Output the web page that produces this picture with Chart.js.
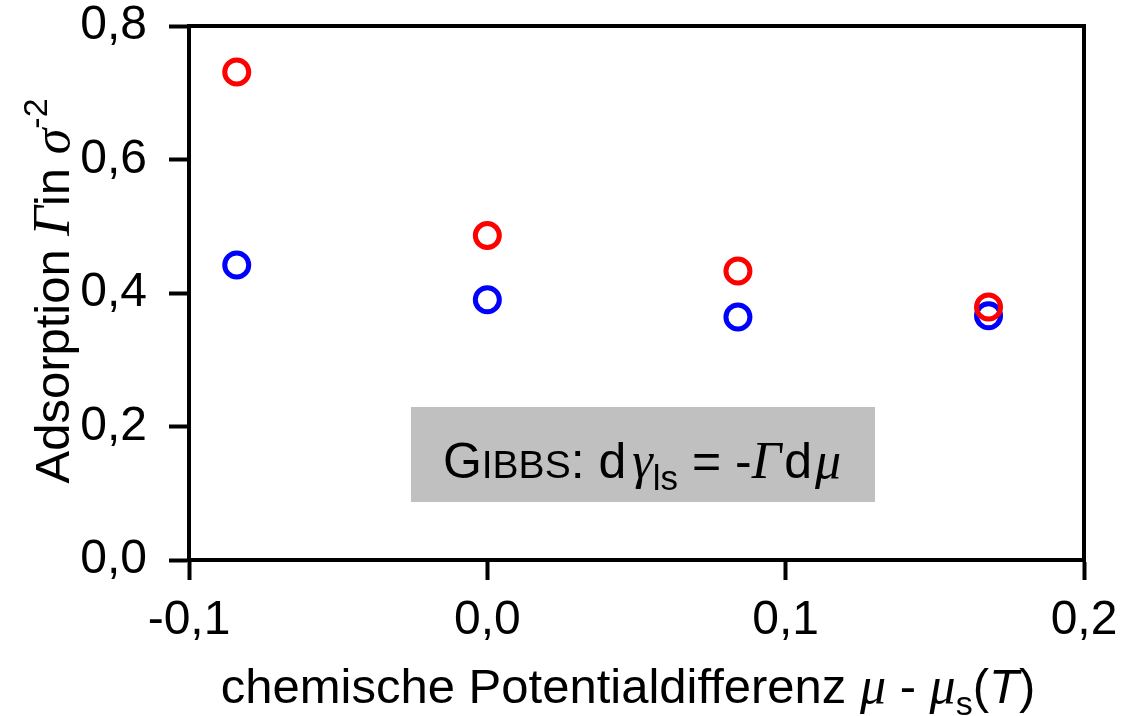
<!DOCTYPE html>
<html>
<head>
<meta charset="utf-8">
<script src="https://cdn.jsdelivr.net/npm/chart.js@4.4.1/dist/chart.umd.min.js"></script>
<style>
  html, body { margin: 0; padding: 0; background: #fff; }
  #wrap { width: 1125px; height: 716px; }
</style>
</head>
<body>
<div id="wrap"><canvas id="adsChart" width="1125" height="716"></canvas></div>
<script>
// chemische Potentialdifferenz (x) und Adsorption Gamma (y)
const potential = [-0.084, 0.0, 0.084, 0.168];
const adsorptionRot = [0.731, 0.486, 0.433, 0.379];
const adsorptionBlau = [0.442, 0.390, 0.364, 0.366];
const xTicks = [-0.1, 0.0, 0.1, 0.2];
const yTicks = [0.0, 0.2, 0.4, 0.6, 0.8];

const SANS = '"Liberation Sans", Arial, sans-serif';
const SERIF = '"Liberation Serif", "Times New Roman", serif';

function punkte(ys) {
    return potential.map((x, i) => ({ x: x, y: ys[i] }));
}

function komma(v) {
    return v.toFixed(1).replace('.', ',');
}

// Text aus mehreren Stücken (Schrift, Versatz) zentriert zeichnen
function textStuecke(ctx, teile, x, y) {
    let breite = 0;
    teile.forEach((t) => {
        ctx.font = t.font;
        t.w = ctx.measureText(t.text).width + (t.gap || 0);
        breite += t.w;
    });
    let cx = x - breite / 2;
    ctx.textAlign = 'left';
    ctx.textBaseline = 'alphabetic';
    teile.forEach((t) => {
        ctx.font = t.font;
        ctx.fillText(t.text, cx, y + (t.dy || 0));
        cx += t.w;
    });
}

const rahmenPlugin = {
    id: 'rahmen',
    beforeDatasetsDraw(chart) {
        const { ctx } = chart;
        ctx.save();
        // Kasten mit Gibbs-Gleichung
        ctx.fillStyle = '#c0c0c0';
        ctx.fillRect(411, 407, 464, 95);
        ctx.fillStyle = '#000';
        textStuecke(ctx, [
            { text: 'G', font: '50px ' + SANS },
            { text: 'IBBS', font: '39px ' + SANS },
            { text: ': d', font: '50px ' + SANS, gap: 6 },
            { text: 'γ', font: 'italic 52px ' + SERIF },
            { text: 'ls', font: '35px ' + SANS, dy: 12 },
            { text: ' = -', font: '50px ' + SANS },
            { text: 'Γ', font: 'italic 52px ' + SERIF, gap: 3 },
            { text: 'd', font: '50px ' + SANS, gap: 3 },
            { text: 'μ', font: 'italic 52px ' + SERIF }
        ], 642, 478);
        ctx.restore();
    },
    afterDraw(chart) {
        const { ctx, chartArea: a } = chart;
        ctx.save();
        // oberer und rechter Rahmen
        ctx.strokeStyle = '#000';
        ctx.lineWidth = 4;
        ctx.beginPath();
        ctx.moveTo(a.left - 2, a.top);
        ctx.lineTo(a.right, a.top);
        ctx.lineTo(a.right, a.bottom + 2);
        ctx.stroke();

        ctx.fillStyle = '#000';
        // x-Achsentitel
        textStuecke(ctx, [
            { text: 'chemische Potentialdifferenz ', font: '49px ' + SANS },
            { text: 'μ', font: 'italic 52px ' + SERIF },
            { text: ' - ', font: '49px ' + SANS },
            { text: 'μ', font: 'italic 52px ' + SERIF },
            { text: 's', font: '34px ' + SANS, dy: 12 },
            { text: '(', font: '49px ' + SANS },
            { text: 'T', font: 'italic 49px ' + SANS },
            { text: ')', font: '49px ' + SANS }
        ], 628, 703);

        // y-Achsentitel, gedreht
        ctx.translate(69, 291);
        ctx.rotate(-Math.PI / 2);
        textStuecke(ctx, [
            { text: 'Adsorption ', font: '49px ' + SANS },
            { text: 'Γ', font: 'italic 52px ' + SERIF },
            { text: 'in ', font: '49px ' + SANS },
            { text: 'σ', font: 'italic 52px ' + SERIF },
            { text: '-2', font: '34px ' + SANS, dy: -22 }
        ], 0, 0);
        ctx.restore();
    }
};

const ctx = document.getElementById('adsChart');

new Chart(ctx, {
    type: 'scatter',
    data: {
        datasets: [
            {
                label: 'rot',
                data: punkte(adsorptionRot),
                borderColor: '#ff0000',
                backgroundColor: 'rgba(0,0,0,0)',
                pointRadius: 12,
                pointBorderWidth: 5,
                pointHoverRadius: 12
            },
            {
                label: 'blau',
                data: punkte(adsorptionBlau),
                borderColor: '#0000ff',
                backgroundColor: 'rgba(0,0,0,0)',
                pointRadius: 12,
                pointBorderWidth: 5,
                pointHoverRadius: 12
            }
        ]
    },
    options: {
        responsive: false,
        animation: false,
        layout: { padding: { top: 26, right: 41, left: 0, bottom: 0 } },
        plugins: {
            legend: { display: false },
            tooltip: { enabled: false }
        },
        scales: {
            x: {
                type: 'linear',
                min: -0.1,
                max: 0.2,
                afterFit: (s) => {
                    s.height = 156;
                    s.paddingLeft = 0;
                    s.paddingRight = 0;
                },
                afterBuildTicks: (s) => { s.ticks = xTicks.map((v) => ({ value: v })); },
                border: { display: true, color: '#000', width: 4 },
                grid: { drawOnChartArea: false, drawTicks: true, tickLength: 20, tickWidth: 4, tickColor: '#000' },
                ticks: {
                    color: '#000',
                    padding: 12,
                    maxRotation: 0,
                    font: { family: SANS, size: 48 },
                    callback: (v) => komma(v)
                }
            },
            y: {
                type: 'linear',
                min: 0,
                max: 0.8,
                afterFit: (s) => {
                    s.width = 189;
                    s.paddingTop = 0;
                    s.paddingBottom = 0;
                },
                afterBuildTicks: (s) => { s.ticks = yTicks.map((v) => ({ value: v })); },
                border: { display: true, color: '#000', width: 4 },
                grid: { drawOnChartArea: false, drawTicks: true, tickLength: 20, tickWidth: 4, tickColor: '#000' },
                ticks: {
                    color: '#000',
                    padding: 22,
                    font: { family: SANS, size: 48 },
                    callback: (v) => komma(v)
                }
            }
        }
    },
    plugins: [rahmenPlugin]
});
</script>
</body>
</html>
